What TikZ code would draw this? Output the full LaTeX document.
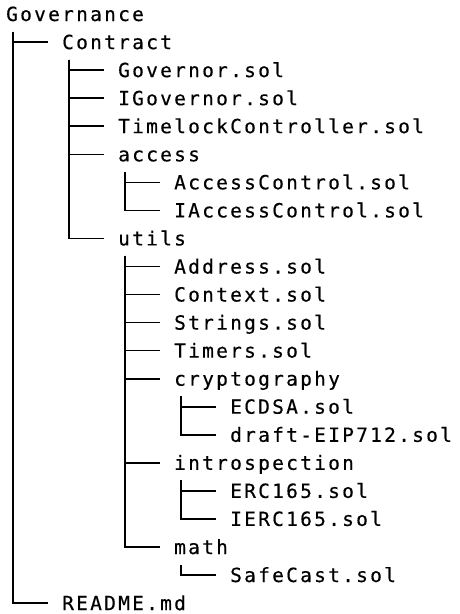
\documentclass[tikz,border=0pt]{standalone}
\usepackage{fontspec}
\setmonofont{DejaVu Sans Mono}[LetterSpace=11.6, FakeBold=0.4]
\usepackage{tikz}

\begin{document}
\begin{tikzpicture}[
  x=1pt, y=-1pt,
  entry/.style={anchor=base west, inner sep=0pt, text=black,
                font=\ttfamily\fontsize{19.5}{22}\selectfont},
  branch/.style={draw, black, line width=1.6pt},
]
% page
\fill[white] (0,0) rectangle (460,614);
% level 0
\node[entry] (gov) at (6,21) {Governance};
% level 1
\node[entry] (contract) at (62,49.1)  {Contract};
\node[entry] (readme)   at (62,610.1) {README.md};
% Contract
\node[entry] (governor)  at (118,77.1)  {Governor.sol};
\node[entry] (igovernor) at (118,105.2) {IGovernor.sol};
\node[entry] (timelock)  at (118,133.2) {TimelockController.sol};
\node[entry] (access)    at (118,161.3) {access};
\node[entry] (utils)     at (118,245.4) {utils};
% access
\node[entry] (accessctl)  at (174,189.3) {AccessControl.sol};
\node[entry] (iaccessctl) at (174,217.4) {IAccessControl.sol};
% utils
\node[entry] (address) at (174,273.5) {Address.sol};
\node[entry] (context) at (174,301.5) {Context.sol};
\node[entry] (strings) at (174,329.6) {Strings.sol};
\node[entry] (timers)  at (174,357.6) {Timers.sol};
\node[entry] (crypto)  at (174,385.7) {cryptography};
\node[entry] (intro)   at (174,469.8) {introspection};
\node[entry] (math)    at (174,554.0) {math};
% leaves
\node[entry] (ecdsa)    at (230,413.7) {ECDSA.sol};
\node[entry] (eip712)   at (230,441.8) {draft-EIP712.sol};
\node[entry] (erc165)   at (230,497.9) {ERC165.sol};
\node[entry] (ierc165)  at (230,525.9) {IERC165.sol};
\node[entry] (safecast) at (230,582.0) {SafeCast.sol};
% tree branches
\draw[branch] ([shift={(7pt,-10.5pt)}]gov.base west) |- ([shift={(-14pt,7pt)}]contract.base west);
\draw[branch] ([shift={(7pt,-10.5pt)}]gov.base west) |- ([shift={(-14pt,7pt)}]readme.base west);
\draw[branch] ([shift={(7pt,-10.5pt)}]contract.base west) |- ([shift={(-14pt,7pt)}]governor.base west);
\draw[branch] ([shift={(7pt,-10.5pt)}]contract.base west) |- ([shift={(-14pt,7pt)}]igovernor.base west);
\draw[branch] ([shift={(7pt,-10.5pt)}]contract.base west) |- ([shift={(-14pt,7pt)}]timelock.base west);
\draw[branch] ([shift={(7pt,-10.5pt)}]contract.base west) |- ([shift={(-14pt,7pt)}]access.base west);
\draw[branch] ([shift={(7pt,-10.5pt)}]contract.base west) |- ([shift={(-14pt,7pt)}]utils.base west);
\draw[branch] ([shift={(7pt,-10.5pt)}]access.base west) |- ([shift={(-14pt,7pt)}]accessctl.base west);
\draw[branch] ([shift={(7pt,-10.5pt)}]access.base west) |- ([shift={(-14pt,7pt)}]iaccessctl.base west);
\draw[branch] ([shift={(7pt,-10.5pt)}]utils.base west) |- ([shift={(-14pt,7pt)}]address.base west);
\draw[branch] ([shift={(7pt,-10.5pt)}]utils.base west) |- ([shift={(-14pt,7pt)}]context.base west);
\draw[branch] ([shift={(7pt,-10.5pt)}]utils.base west) |- ([shift={(-14pt,7pt)}]strings.base west);
\draw[branch] ([shift={(7pt,-10.5pt)}]utils.base west) |- ([shift={(-14pt,7pt)}]timers.base west);
\draw[branch] ([shift={(7pt,-10.5pt)}]utils.base west) |- ([shift={(-14pt,7pt)}]crypto.base west);
\draw[branch] ([shift={(7pt,-10.5pt)}]utils.base west) |- ([shift={(-14pt,7pt)}]intro.base west);
\draw[branch] ([shift={(7pt,-10.5pt)}]utils.base west) |- ([shift={(-14pt,7pt)}]math.base west);
\draw[branch] ([shift={(7pt,-10.5pt)}]crypto.base west) |- ([shift={(-14pt,7pt)}]ecdsa.base west);
\draw[branch] ([shift={(7pt,-10.5pt)}]crypto.base west) |- ([shift={(-14pt,7pt)}]eip712.base west);
\draw[branch] ([shift={(7pt,-10.5pt)}]intro.base west) |- ([shift={(-14pt,7pt)}]erc165.base west);
\draw[branch] ([shift={(7pt,-10.5pt)}]intro.base west) |- ([shift={(-14pt,7pt)}]ierc165.base west);
\draw[branch] ([shift={(7pt,-10.5pt)}]math.base west) |- ([shift={(-14pt,7pt)}]safecast.base west);
\end{tikzpicture}
\end{document}
